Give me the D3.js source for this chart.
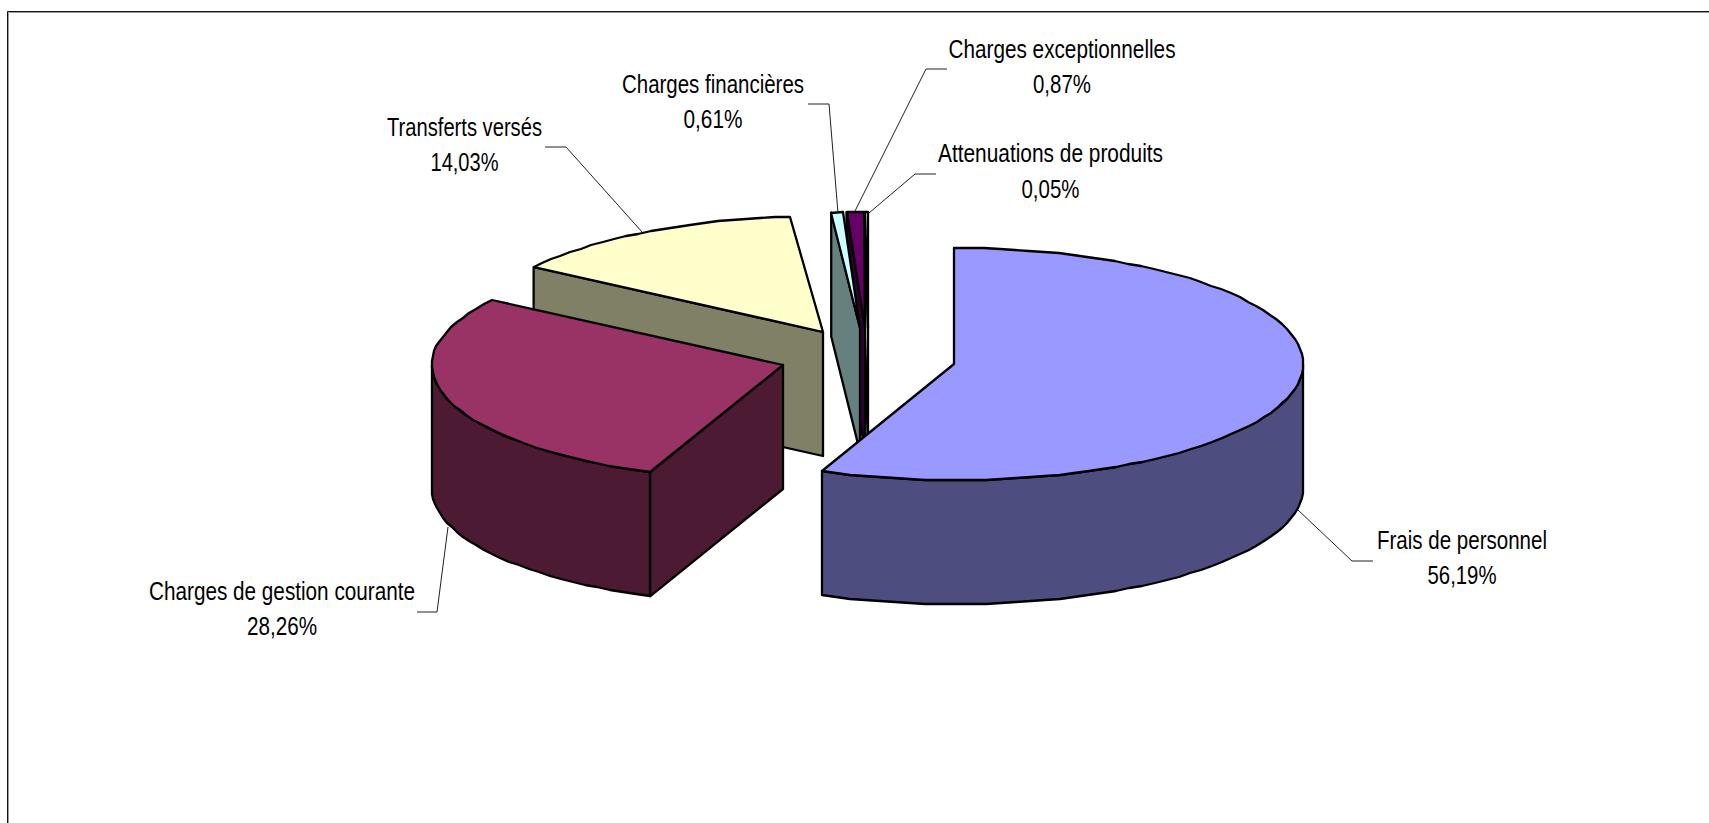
<!DOCTYPE html>
<html lang="fr">
<head>
<meta charset="utf-8">
<title>Répartition des charges</title>
<script src="https://cdn.jsdelivr.net/npm/d3@7"></script>
<style>
html,body{margin:0;padding:0;background:#fff;overflow:hidden}
svg{display:block}
text{font-family:"Liberation Sans",Arial,sans-serif;font-size:26px;fill:#000;text-anchor:middle}
</style>
</head>
<body>
<svg id="chart" width="1709" height="823"></svg>
<script>
// Data
const categories = ["Frais de personnel","Charges de gestion courante","Transferts versés","Charges financières","Charges exceptionnelles","Attenuations de produits"];
const values = [56.19,28.26,14.03,0.61,0.87,0.05];
const valueLabels = ["56,19%","28,26%","14,03%","0,61%","0,87%","0,05%"];

// Styles
const topColors  = ["#9999ff","#993366","#ffffcc","#ccffff","#660066","#ffffff"];
const sideColors = ["#4d4d80","#4d1a33","#808066","#668080","#330033","#ffffff"];

// Layout: exploded slice centres, per-slice horizontal radius, label placement and leader routing (pixels)
const ry = 116, depth = 124;
const sliceRx = [349,351,349,300,320,960];
const sliceCentres = [[954,364],[783,365],[823,332],[860,328],[865,328],[868,328]];
const labelLayout = [
  {cx:1462, y1:549, y2:584, w1:170, w2:69},
  {cx:282,  y1:600, y2:635, w1:266, w2:70},
  {cx:464.5,y1:136, y2:171, w1:155, w2:68},
  {cx:713,  y1:93,  y2:128, w1:182, w2:59},
  {cx:1062, y1:58,  y2:93,  w1:227, w2:58},
  {cx:1050.5,y1:162,y2:198, w1:225, w2:58}
];
const leaders = [
  [[1373,561],[1352,561],[1298,510]],
  [[417,612],[437,612],[448,527]],
  [[545,147],[566,147],[642,232]],
  [[808,104],[829,104],[838,213]],
  [[947,69],[926,69],[854,213]],
  [[936,174],[915,174],[869,213]]
];

const svg = d3.select("#chart");

// Frame (top and left edges only)
const frame = svg.append("g").attr("fill","none");
frame.append("path").attr("d","M8.5,823V12.5H1709").attr("stroke","#9a9a9a").attr("stroke-width",1);
frame.append("path").attr("d","M7.5,823V11.5H1709").attr("stroke","#111").attr("stroke-width",1);

// Leaders
const line = d3.line();
svg.append("g").selectAll("path").data(leaders).join("path")
  .attr("d",d=>line(d)).attr("fill","none").attr("stroke","#222").attr("stroke-width",1);

// Angles from the data
const arcs = d3.pie().sort(null).value(d=>d).startAngle(0).endAngle(2*Math.PI)(values);

function pt(i,a,dz){
  const [cx,cy]=sliceCentres[i];
  return [cx+sliceRx[i]*Math.sin(a), cy-ry*Math.cos(a)+(dz||0)];
}
function arcPts(i,a0,a1,dz){
  const n=Math.max(1,Math.ceil((a1-a0)/(Math.PI/72)));
  // Coarse integer sampling reproduces the reference's slightly stepped outline
  return d3.range(n+1).map(k=>{
    const p=pt(i,a0+(a1-a0)*k/n,dz);
    return [Math.round(p[0]),Math.round(p[1])];
  });
}
const closed=d3.line().curve(d3.curveLinearClosed);
const stroke={stroke:"#000","stroke-width":2.3,"stroke-linejoin":"round"};
function applyStroke(s){Object.entries(stroke).forEach(([k,v])=>s.attr(k,v));return s;}

const pieG=svg.append("g");
arcs.map((d,i)=>({d,i})).reverse().forEach(({d,i})=>{
  const g=pieG.append("g").attr("class","slice");
  const c=sliceCentres[i];
  const a0=d.startAngle,a1=d.endAngle;
  // Start-edge side wall, visible only when it faces the viewer
  if(a0>Math.PI){
    const s=pt(i,a0);
    applyStroke(g.append("path").attr("d",closed([c,s,[s[0],s[1]+depth],[c[0],c[1]+depth]])).attr("fill",sideColors[i]));
  }
  // Outer wall for the front half of the ellipse
  const w0=Math.max(a0,Math.PI/2),w1=Math.min(a1,3*Math.PI/2);
  if(w1>w0){
    const top=arcPts(i,w0,w1,0),bot=arcPts(i,w0,w1,depth).reverse();
    applyStroke(g.append("path").attr("d",closed(top.concat(bot))).attr("fill",sideColors[i]));
  }
  // Top face
  applyStroke(g.append("path").attr("d",closed([c].concat(arcPts(i,a0,a1,0)))).attr("fill",topColors[i]));
});

// Labels
const lab=svg.append("g").selectAll("g").data(categories).join("g");
lab.append("text").attr("x",(d,i)=>labelLayout[i].cx).attr("y",(d,i)=>labelLayout[i].y1)
  .attr("textLength",(d,i)=>labelLayout[i].w1).attr("lengthAdjust","spacingAndGlyphs").text(d=>d);
lab.append("text").attr("x",(d,i)=>labelLayout[i].cx).attr("y",(d,i)=>labelLayout[i].y2)
  .attr("textLength",(d,i)=>labelLayout[i].w2).attr("lengthAdjust","spacingAndGlyphs").text((d,i)=>valueLabels[i]);
</script>
</body>
</html>
